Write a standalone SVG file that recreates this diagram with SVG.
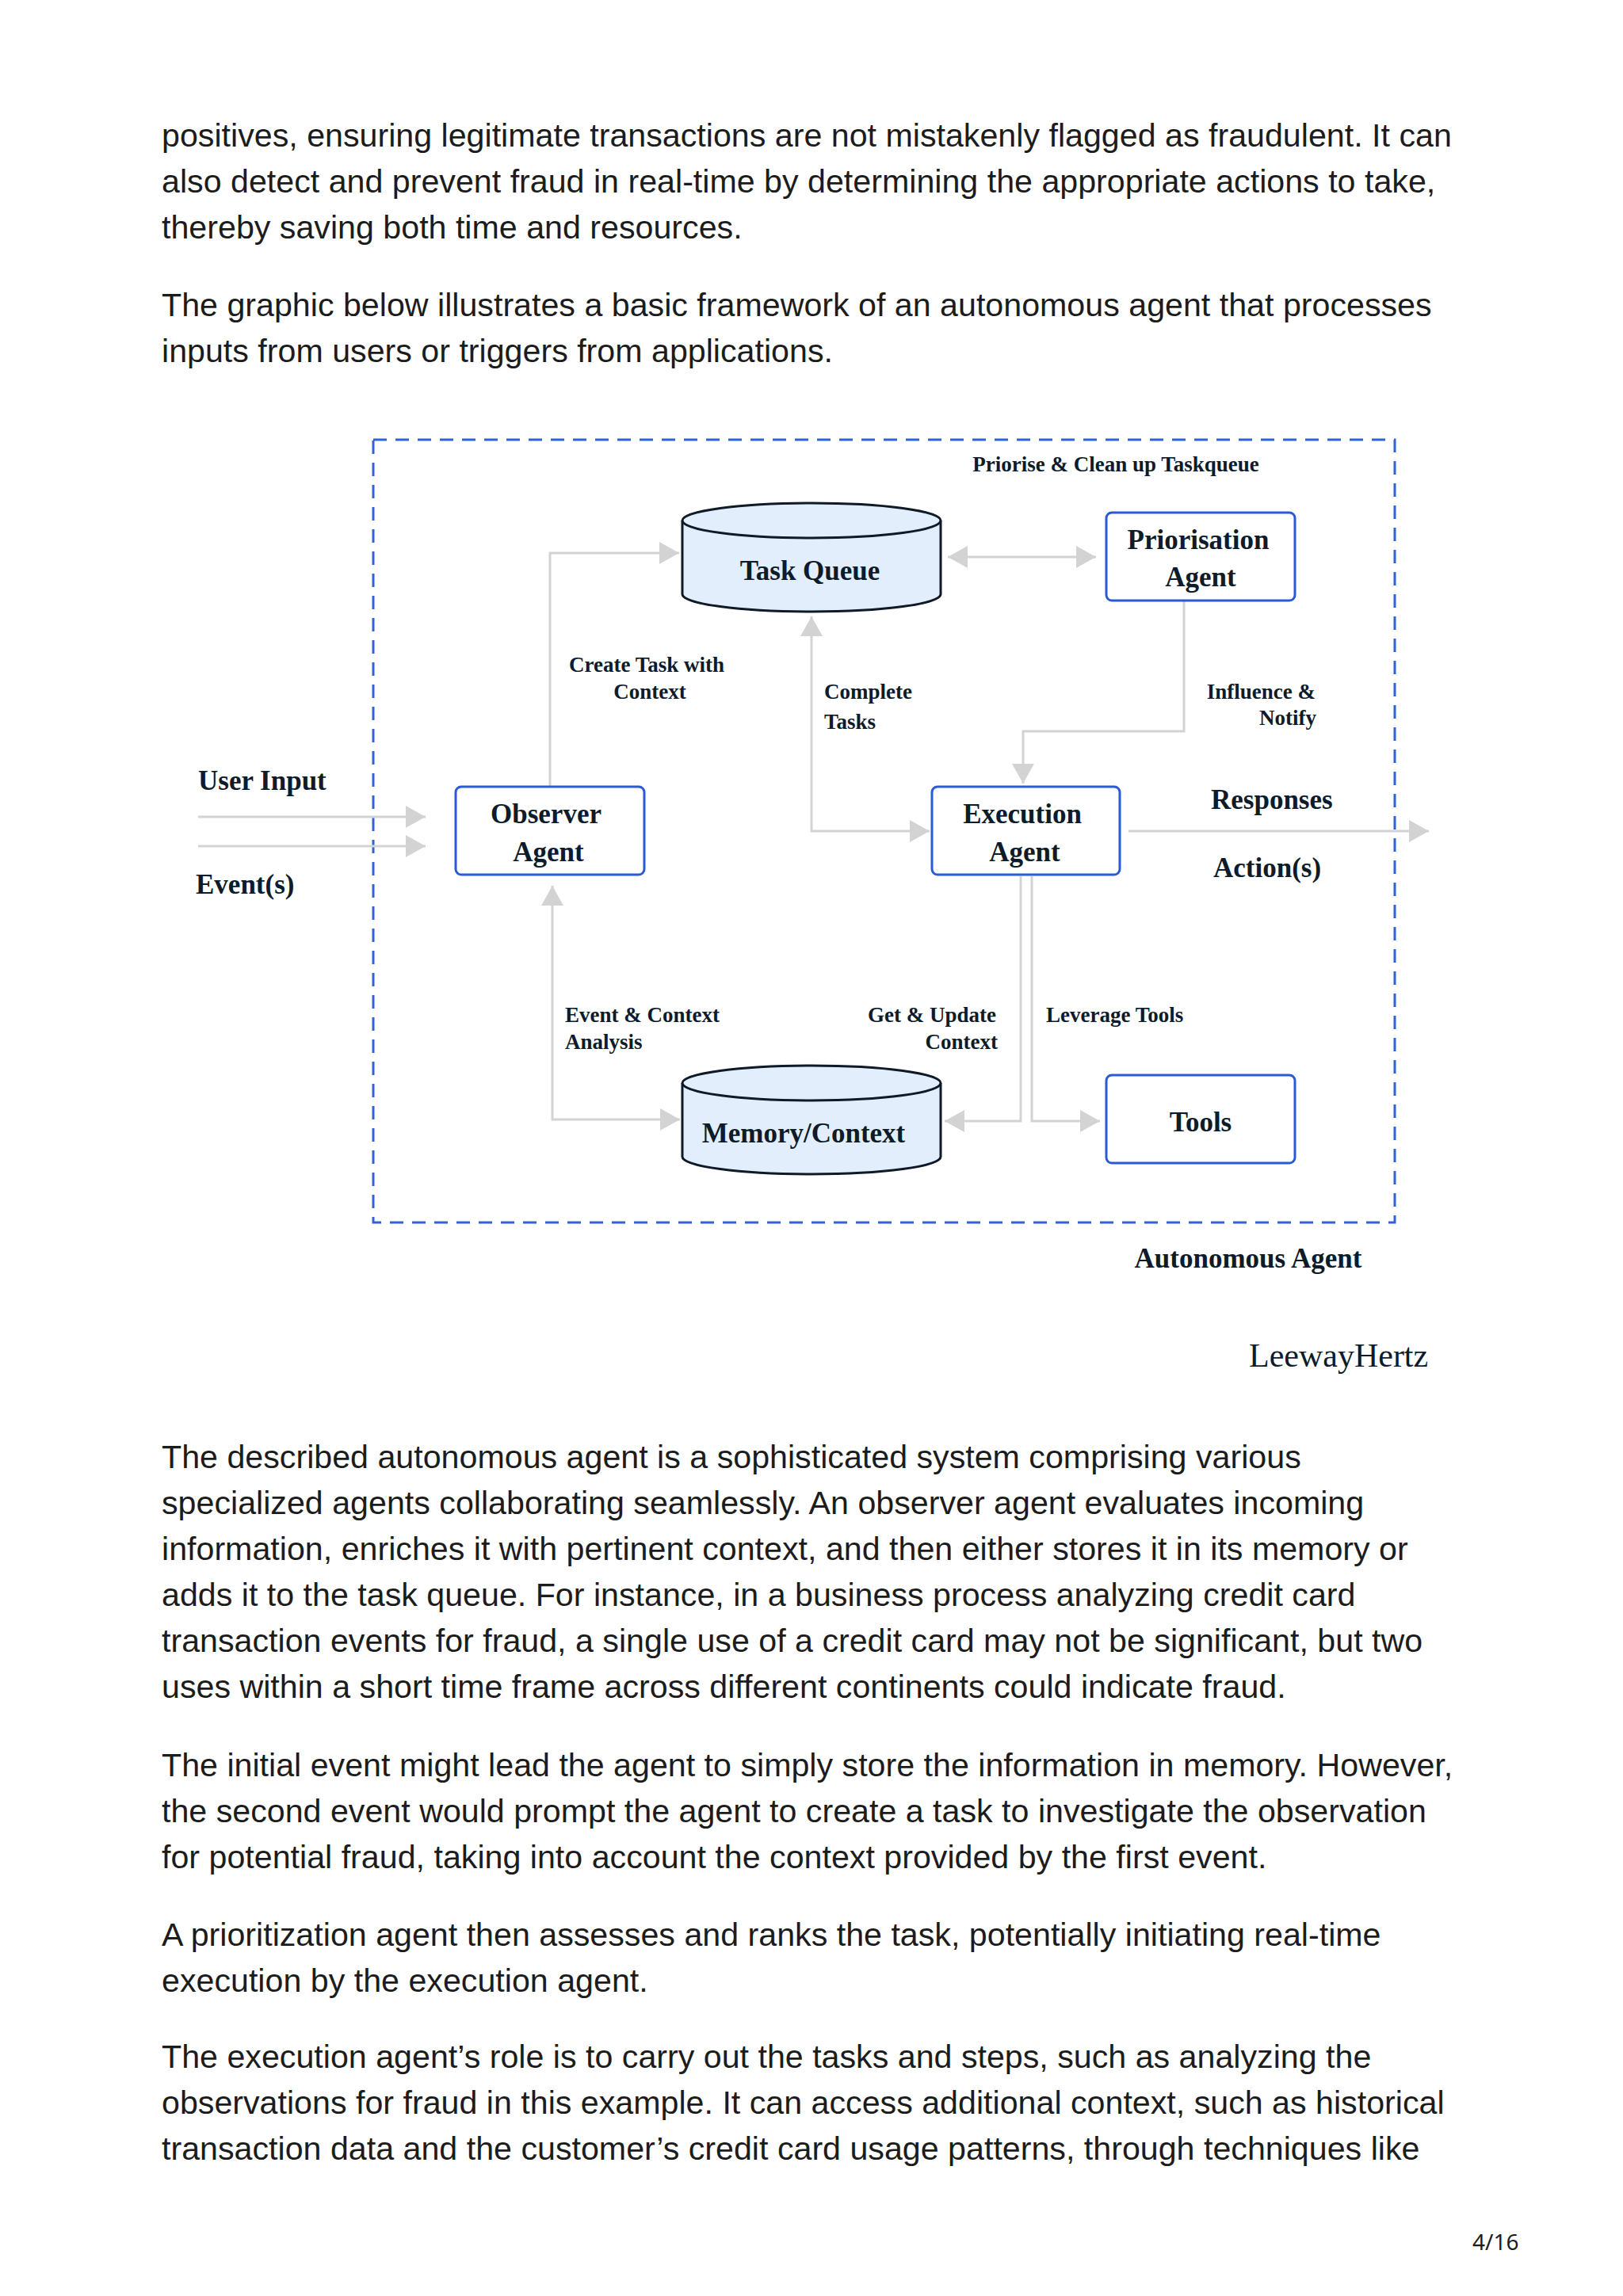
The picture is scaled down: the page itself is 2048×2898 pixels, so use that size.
<svg xmlns="http://www.w3.org/2000/svg" width="2048" height="2898" viewBox="0 0 2048 2898">
<style>
.body{font-family:"Liberation Sans",Arial,sans-serif;font-size:41.2px;fill:#1c1c1c}
.nd{font-family:"Liberation Serif","Times New Roman",serif;font-weight:bold;font-size:35px;fill:#0d1b2a}
.lb{font-family:"Liberation Serif","Times New Roman",serif;font-weight:bold;font-size:27px;fill:#0d1b2a}
.box{fill:#ffffff;stroke:#2a5bd7;stroke-width:3}
.cyl{fill:#e3eefc;stroke:#0f1a28;stroke-width:3}
.con{fill:none;stroke:#d3d3d3;stroke-width:3}
.frame{fill:none;stroke:#2f64d8;stroke-width:3;stroke-dasharray:17 11}
</style>
<defs>
<marker id="ah" viewBox="0 0 25 28" refX="25" refY="14" markerWidth="25" markerHeight="28" markerUnits="userSpaceOnUse" orient="auto-start-reverse">
<path d="M0,0 L25,14 L0,28 Z" fill="#d3d3d3"/>
</marker>
</defs>
<rect width="2048" height="2898" fill="#ffffff"/>
<g id="text-top">
<text class="body" x="204" y="185">positives, ensuring legitimate transactions are not mistakenly flagged as fraudulent. It can</text>
<text class="body" x="204" y="243">also detect and prevent fraud in real-time by determining the appropriate actions to take,</text>
<text class="body" x="204" y="301">thereby saving both time and resources.</text>
<text class="body" x="204" y="399">The graphic below illustrates a basic framework of an autonomous agent that processes</text>
<text class="body" x="204" y="457">inputs from users or triggers from applications.</text>
</g>
<rect id="autonomous-agent-frame" class="frame" x="471" y="555" width="1289" height="988"/>
<g id="connectors">
<path class="con" d="M250,1031 H537" marker-end="url(#ah)"/>
<path class="con" d="M250,1068 H537" marker-end="url(#ah)"/>
<path class="con" d="M694,993 V698 H857" marker-end="url(#ah)"/>
<path class="con" d="M1024,778 V1049 H1173" marker-start="url(#ah)" marker-end="url(#ah)"/>
<path class="con" d="M1196,703 H1383" marker-start="url(#ah)" marker-end="url(#ah)"/>
<path class="con" d="M1494,758 V923 H1291 V989" marker-end="url(#ah)"/>
<path class="con" d="M1424,1049 H1803" marker-end="url(#ah)"/>
<path class="con" d="M697,1118 V1413 H858" marker-start="url(#ah)" marker-end="url(#ah)"/>
<path class="con" d="M1288,1106 V1415 H1192" marker-end="url(#ah)"/>
<path class="con" d="M1302,1106 V1415 H1388" marker-end="url(#ah)"/>
</g>
<g id="task-queue">
<path class="cyl" d="M861,657 A163,22 0 0 1 1187,657 V750 A163,22 0 0 1 861,750 Z"/>
<path class="cyl" d="M861,657 A163,22 0 0 0 1187,657" fill="none"/>
<text class="nd" x="1022" y="732" text-anchor="middle">Task Queue</text>
</g>
<g id="priorisation-agent">
<rect class="box" x="1396" y="647" width="238" height="111" rx="7"/>
<text class="nd" x="1512" y="693" text-anchor="middle">Priorisation</text>
<text class="nd" x="1515" y="740" text-anchor="middle">Agent</text>
</g>
<g id="observer-agent">
<rect class="box" x="575" y="993" width="238" height="111" rx="7"/>
<text class="nd" x="689" y="1039" text-anchor="middle">Observer</text>
<text class="nd" x="692" y="1087" text-anchor="middle">Agent</text>
</g>
<g id="execution-agent">
<rect class="box" x="1176" y="993" width="237" height="111" rx="7"/>
<text class="nd" x="1290" y="1039" text-anchor="middle">Execution</text>
<text class="nd" x="1293" y="1087" text-anchor="middle">Agent</text>
</g>
<g id="memory-context">
<path class="cyl" d="M861,1367 A163,22 0 0 1 1187,1367 V1460 A163,22 0 0 1 861,1460 Z"/>
<path class="cyl" d="M861,1367 A163,22 0 0 0 1187,1367" fill="none"/>
<text class="nd" x="1014" y="1442" text-anchor="middle">Memory/Context</text>
</g>
<g id="tools">
<rect class="box" x="1396" y="1357" width="238" height="111" rx="7"/>
<text class="nd" x="1515" y="1428" text-anchor="middle">Tools</text>
</g>
<g id="labels">
<text class="nd" x="250" y="997">User Input</text>
<text class="nd" x="247" y="1128">Event(s)</text>
<text class="lb" x="1408" y="595" text-anchor="middle">Priorise &amp; Clean up Taskqueue</text>
<text class="lb" x="816" y="848" text-anchor="middle">Create Task with</text>
<text class="lb" x="820" y="882" text-anchor="middle">Context</text>
<text class="lb" x="1040" y="882">Complete</text>
<text class="lb" x="1040" y="920">Tasks</text>
<text class="lb" x="1660" y="882" text-anchor="end">Influence &amp;</text>
<text class="lb" x="1661" y="915" text-anchor="end">Notify</text>
<text class="nd" x="1528" y="1021">Responses</text>
<text class="nd" x="1531" y="1107">Action(s)</text>
<text class="lb" x="713" y="1290">Event &amp; Context</text>
<text class="lb" x="713" y="1324">Analysis</text>
<text class="lb" x="1257" y="1290" text-anchor="end">Get &amp; Update</text>
<text class="lb" x="1259" y="1324" text-anchor="end">Context</text>
<text class="lb" x="1320" y="1290">Leverage Tools</text>
<text class="nd" x="1575" y="1600" text-anchor="middle">Autonomous Agent</text>
<text x="1576" y="1725" style="font-family:'Liberation Serif','Times New Roman',serif;font-size:42px;fill:#0d1b2a">LeewayHertz</text>
</g>
<g id="text-bottom">
<text class="body" x="204" y="1853">The described autonomous agent is a sophisticated system comprising various</text>
<text class="body" x="204" y="1911">specialized agents collaborating seamlessly. An observer agent evaluates incoming</text>
<text class="body" x="204" y="1969">information, enriches it with pertinent context, and then either stores it in its memory or</text>
<text class="body" x="204" y="2027">adds it to the task queue. For instance, in a business process analyzing credit card</text>
<text class="body" x="204" y="2085">transaction events for fraud, a single use of a credit card may not be significant, but two</text>
<text class="body" x="204" y="2143">uses within a short time frame across different continents could indicate fraud.</text>
<text class="body" x="204" y="2242">The initial event might lead the agent to simply store the information in memory. However,</text>
<text class="body" x="204" y="2300">the second event would prompt the agent to create a task to investigate the observation</text>
<text class="body" x="204" y="2358">for potential fraud, taking into account the context provided by the first event.</text>
<text class="body" x="204" y="2456">A prioritization agent then assesses and ranks the task, potentially initiating real-time</text>
<text class="body" x="204" y="2514">execution by the execution agent.</text>
<text class="body" x="204" y="2610">The execution agent’s role is to carry out the tasks and steps, such as analyzing the</text>
<text class="body" x="204" y="2668">observations for fraud in this example. It can access additional context, such as historical</text>
<text class="body" x="204" y="2726">transaction data and the customer’s credit card usage patterns, through techniques like</text>
<text x="1858" y="2840" style="font-family:'Noto Sans',sans-serif;font-size:28px;fill:#1c1c1c">4/16</text>
</g>
</svg>
